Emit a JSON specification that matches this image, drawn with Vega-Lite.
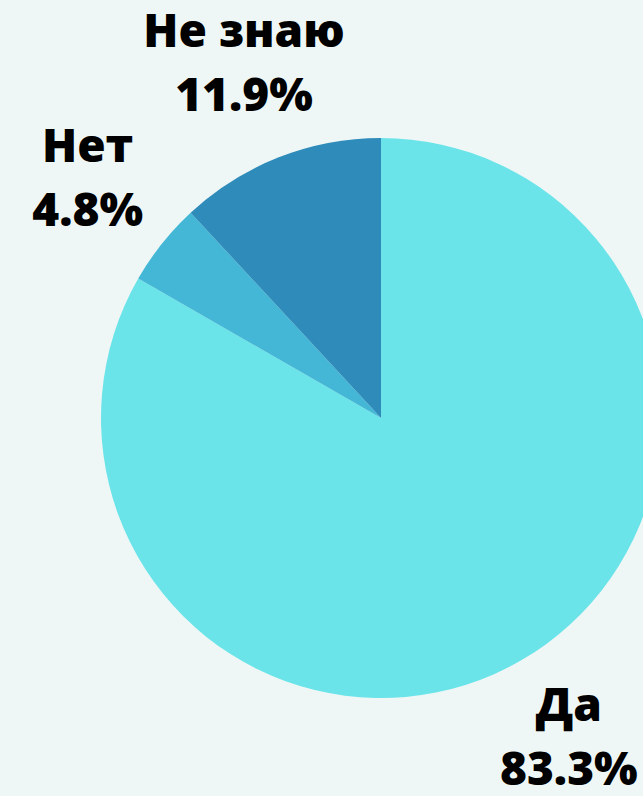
{
  "$schema": "https://vega.github.io/schema/vega-lite/v6.json",
  "width": 524,
  "height": 756,
  "autosize": {"type": "none"},
  "padding": {"left": 119, "top": 40, "right": 0, "bottom": 0},
  "background": "#eff7f6",
  "config": {"view": {"stroke": null}},
  "data": {
    "values": [
      {"cat": "Да", "pct": 83.3, "label": "83.3%", "ord": 1},
      {"cat": "Нет", "pct": 4.8, "label": "4.8%", "ord": 2},
      {"cat": "Не знаю", "pct": 11.9, "label": "11.9%", "ord": 3}
    ]
  },
  "encoding": {
    "theta": {"field": "pct", "type": "quantitative", "stack": true},
    "order": {"field": "ord", "type": "quantitative"}
  },
  "layer": [
    {
      "mark": {"type": "arc", "radius": 280},
      "encoding": {
        "color": {
          "field": "cat",
          "type": "nominal",
          "scale": {"domain": ["Да", "Нет", "Не знаю"], "range": ["#6be4e9", "#43b7d5", "#2e8bba"]},
          "legend": null
        }
      }
    },
    {
      "mark": {"type": "text", "radius": 375, "dy": -22, "baseline": "alphabetic", "font": "Open Sans", "fontSize": 46, "fontWeight": 800, "color": "#000000"},
      "encoding": {"text": {"field": "cat", "type": "nominal"}}
    },
    {
      "mark": {"type": "text", "radius": 375, "dy": 42, "baseline": "alphabetic", "font": "Open Sans", "fontSize": 46, "fontWeight": 800, "color": "#000000"},
      "encoding": {"text": {"field": "label", "type": "nominal"}}
    }
  ]
}
